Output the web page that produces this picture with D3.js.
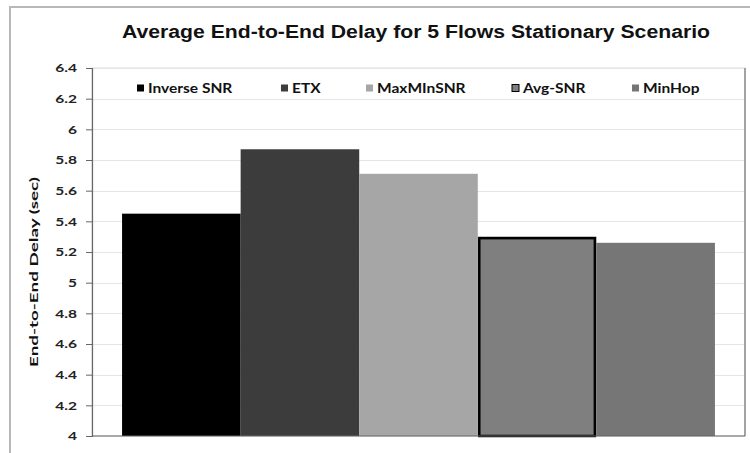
<!DOCTYPE html>
<html><head><meta charset="utf-8">
<script src="https://cdn.jsdelivr.net/npm/d3@7"></script>
<style>body{margin:0;background:#fff;}svg{display:block;}</style>
</head><body>
<svg id="c" width="750" height="453"></svg>
<script>
const categories = ["Inverse SNR", "ETX", "MaxMInSNR", "Avg-SNR", "MinHop"];
const values = [5.45, 5.87, 5.71, 5.30, 5.26];
const colors = ["#000000", "#3c3c3c", "#a6a6a6", "#7f7f7f", "#767676"];
const yTicks = [4, 4.2, 4.4, 4.6, 4.8, 5, 5.2, 5.4, 5.6, 5.8, 6, 6.2, 6.4];
const tickLabels = ["4","4.2","4.4","4.6","4.8","5","5.2","5.4","5.6","5.8","6","6.2","6.4"];
const title = "Average End-to-End Delay for 5 Flows Stationary Scenario";
const yTitle = "End-to-End Delay (sec)";

const svg = d3.select("#c");
const plot = {l: 92, r: 745, t: 68, b: 436};

// outer chart border
svg.append("rect").attr("x", 10).attr("y", 7).attr("width", 760).attr("height", 470)
  .attr("fill", "#fff").attr("stroke", "#b8b8b8").attr("stroke-width", 2);

const y = d3.scaleLinear().domain([4, 6.4]).range([plot.b, plot.t]);
const x = d3.scaleBand().domain(["g"]).range([plot.l, plot.r]).paddingInner(0).paddingOuter(0.0507);
const xs = d3.scaleBand().domain(categories).range([x("g"), x("g") + x.bandwidth()]);

// plot area
svg.append("rect").attr("x", plot.l).attr("y", plot.t).attr("width", plot.r - plot.l).attr("height", plot.b - plot.t)
  .attr("fill", "#fff").attr("stroke", "#dcdcdc").attr("stroke-width", 1);

// gridlines
svg.append("g").selectAll("line").data(yTicks.slice(1)).join("line")
  .attr("x1", plot.l).attr("x2", plot.r)
  .attr("y1", d => Math.round(y(d)) + 0.5).attr("y2", d => Math.round(y(d)) + 0.5)
  .attr("stroke", "#e6e6e6").attr("stroke-width", 1);

svg.append("line").attr("x1", plot.r).attr("x2", plot.r).attr("y1", plot.t).attr("y2", plot.b)
  .attr("stroke", "#8a8a8a").attr("stroke-width", 1.5);

// bars
svg.append("g").selectAll("rect").data(categories).join("rect")
  .attr("x", d => xs(d)).attr("width", xs.bandwidth())
  .attr("y", (d, i) => y(values[i])).attr("height", (d, i) => y(4) - y(values[i]))
  .attr("fill", (d, i) => colors[i]);

// Avg-SNR outline
const ai = 3;
svg.append("rect").attr("x", xs(categories[ai]) + 1.5).attr("width", xs.bandwidth() - 3)
  .attr("y", y(values[ai]) + 1.5).attr("height", y(4) - y(values[ai]) - 1.5)
  .attr("fill", "none").attr("stroke", "#000").attr("stroke-width", 2.5);

// axis
const axis = d3.axisLeft(y).tickValues(yTicks).tickFormat((d, i) => tickLabels[i]).tickSize(6).tickPadding(0);
const ag = svg.append("g").attr("transform", `translate(${plot.l},0)`).call(axis);
ag.select(".domain").attr("stroke", "#666").attr("stroke-width", 1.2);
ag.selectAll(".tick line").attr("stroke", "#666");
ag.selectAll(".tick text").attr("x", -15 / 1.35).attr("transform", "scale(1.35,1)")
  .attr("font-family", "Lato, sans-serif").attr("font-weight", "bold")
  .attr("font-size", 11.5).attr("fill", "#222");

svg.append("line").attr("x1", plot.l).attr("x2", plot.r).attr("y1", plot.b).attr("y2", plot.b)
  .attr("stroke", "#666").attr("stroke-width", 1.2);

// title
svg.append("text").attr("x", 122).attr("y", 38)
  .attr("font-family", "Liberation Sans, Arial, sans-serif").attr("font-weight", "bold")
  .attr("font-size", 17.5).attr("fill", "#111")
  .attr("textLength", 588).attr("lengthAdjust", "spacingAndGlyphs").text(title);

// y title
svg.append("text").attr("transform", `translate(38,272) rotate(-90)`)
  .attr("text-anchor", "middle").attr("font-family", "Lato, sans-serif").attr("font-weight", "bold")
  .attr("font-size", 12).attr("fill", "#111")
  .attr("textLength", 190).attr("lengthAdjust", "spacingAndGlyphs").text(yTitle);

// legend
const legX = [137, 281, 366, 512, 632];
const lg = svg.append("g");
categories.forEach((c, i) => {
  lg.append("rect").attr("x", legX[i]).attr("y", 84.5).attr("width", 7).attr("height", 7)
    .attr("fill", colors[i]).attr("stroke", i === 3 ? "#000" : "none").attr("stroke-width", 1);
  lg.append("text").attr("transform", `translate(${legX[i] + 11},92.5) scale(1.15,1)`)
    .attr("font-family", "Lato, sans-serif").attr("font-weight", "bold").attr("font-size", 13.5)
    .attr("fill", "#111").text(c);
});
</script>
</body></html>
